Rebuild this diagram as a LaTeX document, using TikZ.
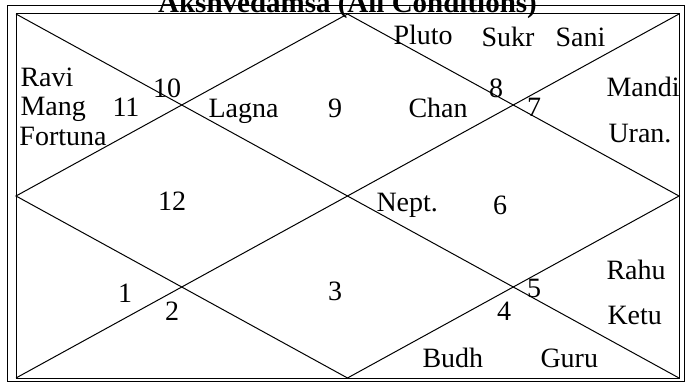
\documentclass[tikz,border=0pt]{standalone}
\usepackage{fontspec}
\setmainfont{Liberation Serif}
\begin{document}
\begin{tikzpicture}[x=1pt,y=-1pt,line width=1pt,
  lbl/.style={inner sep=0pt,anchor=base west,font=\fontsize{28}{30}\selectfont},
  num/.style={inner sep=0pt,anchor=base,font=\fontsize{28}{30}\selectfont}]
\useasboundingbox (0,0) rectangle (695,382);
\fill[white] (0,0) rectangle (695,382);
% frame
\coordinate (OTL) at (7,6);
\coordinate (OBR) at (684,381);
\coordinate (TL) at (16,14);
\coordinate (TR) at (679,14);
\coordinate (BL) at (16,378);
\coordinate (BR) at (679,378);
\coordinate (T) at (347.5,14);
\coordinate (R) at (679,196);
\coordinate (B) at (347.5,378);
\coordinate (L) at (16,196);
\draw (OTL) rectangle (OBR);
\draw (TL) rectangle (BR);
\draw (TL) -- (BR);
\draw (BL) -- (TR);
\draw (T) -- (R) -- (B) -- (L) -- cycle;
% title
\node[inner sep=0pt,anchor=base,font=\bfseries\fontsize{29}{30}\selectfont] (title) at (347.5,13) {Akshvedamsa (All Conditions)};
% labels
\node[lbl] (ravi) at (20,87) {Ravi};
\node[lbl] (mang) at (20,116) {Mang};
\node[lbl] (fortuna) at (19,146) {Fortuna};
\node[num] (h11) at (126,117) {11};
\node[num] (h10) at (167,98) {10};
\node[lbl] (lagna) at (208,118) {Lagna};
\node[num] (h9) at (335,118) {9};
\node[lbl] (chan) at (408,118) {Chan};
\node[num] (h8) at (496,98) {8};
\node[num] (h7) at (534,117) {7};
\node[lbl] (pluto) at (393,45) {Pluto};
\node[lbl] (sukr) at (481,47) {Sukr};
\node[lbl] (sani) at (555,47) {Sani};
\node[lbl] (mandi) at (606,97) {Mandi};
\node[lbl] (uran) at (608,143) {Uran.};
\node[num] (h12) at (172,210) {12};
\node[lbl] (nept) at (376,211) {Nept.};
\node[num] (h6) at (500,214) {6};
\node[num] (h1) at (125,302) {1};
\node[num] (h2) at (172,320) {2};
\node[num] (h3) at (335,300) {3};
\node[num] (h4) at (504,320) {4};
\node[num] (h5) at (534,297) {5};
\node[lbl] (rahu) at (606,279) {Rahu};
\node[lbl] (ketu) at (607,324) {Ketu};
\node[lbl] (budh) at (422,367) {Budh};
\node[lbl] (guru) at (540,367) {Guru};
\end{tikzpicture}
\end{document}
